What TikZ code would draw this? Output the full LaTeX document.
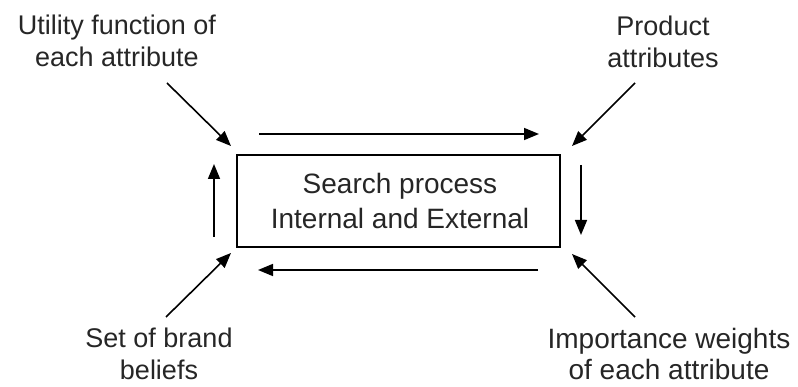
\documentclass[tikz,border=0pt]{standalone}
\usepackage{fontspec}
\setmainfont{Liberation Sans}
\usetikzlibrary{arrows.meta}
\begin{document}
\begin{tikzpicture}[x=1pt,y=-1pt,
  lbl/.style={align=center,inner sep=0pt,font=\fontsize{27}{32}\selectfont,text=black!85},
  arr/.style={line width=1.6pt,-{Triangle[length=15pt,width=12pt]}},
  box/.style={draw,line width=1.6pt,minimum width=323pt,minimum height=92pt,inner sep=0pt,align=center,font=\fontsize{28}{35}\selectfont,text=black!85}]
\useasboundingbox (0,0) rectangle (798,387);
\node[box] (sp) at (398.5,201) {};
\node[align=center,inner sep=0pt,font=\fontsize{28}{35}\selectfont,text=black!85] (sptext) at (400,201) {Search process\\Internal and External};
\node[lbl] (util) at (117,41) {Utility function of\\each attribute};
\node[lbl] (prod) at (663,42) {Product\\attributes};
\node[lbl] (brand) at (159,354) {Set of brand\\beliefs};
\node[lbl,font=\fontsize{28}{31}\selectfont] (imp) at (669,354) {Importance weights\\of each attribute};
\coordinate (u0) at (167,83); \coordinate (u1) at (231,146);
\coordinate (p0) at (635,83); \coordinate (p1) at (572,146);
\coordinate (b0) at (166,317); \coordinate (b1) at (231,253);
\coordinate (i0) at (635,317); \coordinate (i1) at (572,254);
\coordinate (t0) at (259,134); \coordinate (t1) at (539,134);
\coordinate (r0) at (581,165); \coordinate (r1) at (581,235);
\coordinate (d0) at (538,270); \coordinate (d1) at (258,270);
\coordinate (l0) at (214,237); \coordinate (l1) at (214,164);
\draw[arr] (u0) -- (u1);
\draw[arr] (p0) -- (p1);
\draw[arr] (b0) -- (b1);
\draw[arr] (i0) -- (i1);
\draw[arr] (t0) -- (t1);
\draw[arr] (r0) -- (r1);
\draw[arr] (d0) -- (d1);
\draw[arr] (l0) -- (l1);
\end{tikzpicture}
\end{document}
